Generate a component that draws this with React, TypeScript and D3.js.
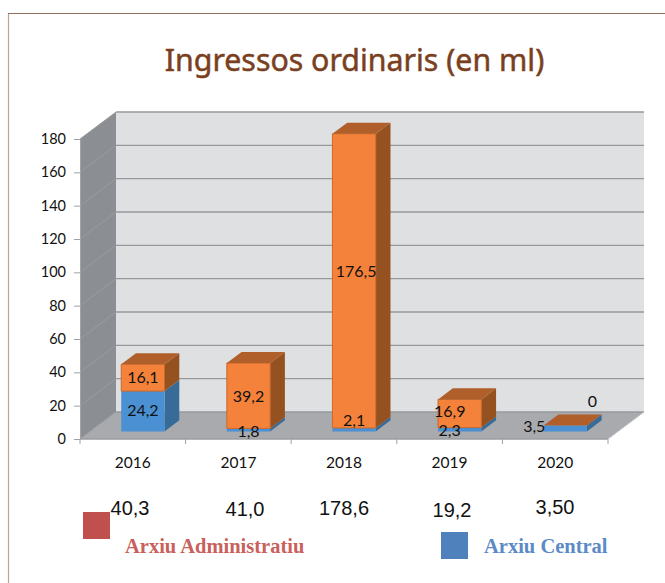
import React, { useRef, useEffect } from "react";
import * as d3 from "d3";

const years = ["2016", "2017", "2018", "2019", "2020"];
const central = [24.2, 1.8, 2.1, 2.3, 3.5];
const admin = [16.1, 39.2, 176.5, 16.9, 0];
const centralLabels = ["24,2", "1,8", "2,1", "2,3", "3,5"];
const adminLabels = ["16,1", "39,2", "176,5", "16,9", "0"];
const totals = ["40,3", "41,0", "178,6", "19,2", "3,50"];
const yTicks = d3.range(0, 181, 20);

// label offsets from the middle of the front face, the source placed these by hand
const centralNudge = [[0, -1], [0, 1], [0, -9], [-10, 1], [-31, -2]];
const adminNudge = [[0, 0], [0, 1], [2, -9], [-10, -2], [27, -24]];
const totalPos = [[130, 515], [245, 516], [344, 515], [452, 517], [555, 514]];

const W = 665;
const H = 583;
const DX = 36; // depth of the 3d box in px
const DY = -27;

const App = () => {
  const ref = useRef<SVGSVGElement>(null);

  useEffect(() => {
    const svg = d3.select(ref.current);
    svg.selectAll("*").remove();

    const x = d3.scaleBand().domain(years).range([80, 608]);
    const y = d3.scaleLinear().domain([0, 180]).range([439, 139]);
    const poly = (pts: number[][], fill: string, stroke = "none") =>
      svg
        .append("polygon")
        .attr("points", pts.map((p) => p.join(",")).join(" "))
        .attr("fill", fill)
        .attr("stroke", stroke);

    // frame
    svg.append("line").attr("x1", 8.5).attr("x2", 8.5).attr("y1", 13).attr("y2", H).attr("stroke", "#b8a596").attr("stroke-width", 1.2);
    svg.append("line").attr("x1", 8).attr("x2", W).attr("y1", 13.5).attr("y2", 13.5).attr("stroke", "#8f6f5c").attr("stroke-width", 1.2);

    svg
      .append("text")
      .attr("x", 354.5)
      .attr("y", 71)
      .attr("text-anchor", "middle")
      .attr("font-family", "'Noto Sans'")
      .attr("font-size", 30.3)
      .attr("fill", "#7a3f20")
      .attr("stroke", "#7a3f20")
      .attr("stroke-width", 0.5)
      .text("Ingressos ordinaris (en ml)");

    const [x0, x1] = x.range();
    const y0 = y(0);
    const yTop = y(180);

    // walls and floor
    poly([[x0 + DX, yTop + DY], [x1 + DX, yTop + DY], [x1 + DX, y0 + DY], [x0 + DX, y0 + DY]], "#dfe0e2");
    poly([[x0, yTop], [x0 + DX, yTop + DY], [x0 + DX, y0 + DY], [x0, y0]], "#8b8e93");
    poly([[x0, y0], [x0 + DX, y0 + DY], [x1 + DX, y0 + DY], [x1, y0]], "#a9aaae");

    // gridlines, back wall and side wall
    yTicks.forEach((t) => {
      const g = y(t);
      svg.append("line").attr("x1", x0 + DX).attr("x2", x1 + DX).attr("y1", g + DY).attr("y2", g + DY).attr("stroke", "#96989c").attr("stroke-width", 1.4);
      svg.append("line").attr("x1", x0).attr("x2", x0 + DX).attr("y1", g).attr("y2", g + DY).attr("stroke", "#9a9c9f").attr("stroke-width", 1);
    });
    svg.append("line").attr("x1", x0).attr("x2", x1).attr("y1", y0).attr("y2", y0).attr("stroke", "#9a9c9f").attr("stroke-width", 1.4);
    svg.append("line").attr("x1", x1).attr("x2", x1 + DX).attr("y1", y0).attr("y2", y0 + DY).attr("stroke", "#c4c5c8").attr("stroke-width", 1);

    // axes
    const yAxis = svg
      .append("g")
      .attr("transform", `translate(${x0},0)`)
      .call(d3.axisLeft(y).tickValues(yTicks).tickSize(6).tickPadding(8));
    yAxis.select(".domain").attr("stroke", "#a0a2a5");
    yAxis.selectAll("line").attr("stroke", "#a0a2a5");
    yAxis.selectAll("text").attr("font-family", "Lato").attr("font-size", 14.5).attr("fill", "#111");

    const xAxis = svg
      .append("g")
      .attr("transform", `translate(0,${y0})`)
      .call(d3.axisBottom(x).tickSize(0).tickPadding(18));
    xAxis.select(".domain").remove();
    xAxis.selectAll("text").attr("font-family", "Lato").attr("font-size", 15.5).attr("fill", "#111");

    [...years.map((d) => x(d)!), x1].forEach((v) => {
      svg.append("line").attr("x1", v).attr("x2", v).attr("y1", y0).attr("y2", y0 + 5).attr("stroke", "#a0a2a5");
    });

    // bars
    const shift = 0.28;
    const depth = 0.41;
    const bw = x.bandwidth() * 0.41;
    const baseY = shift * DY;
    const bdx = depth * DX;
    const bdy = depth * DY;

    years.forEach((yr, i) => {
      const cx = x(yr)! + x.bandwidth() / 2 + shift * DX;
      const left = cx - bw / 2;
      const right = cx + bw / 2;
      const yBase = y(0) + baseY;
      const yMid = y(central[i]) + baseY;
      const yEnd = y(central[i] + admin[i]) + baseY;

      // side faces
      poly([[right, yBase], [right + bdx, yBase + bdy], [right + bdx, yMid + bdy], [right, yMid]], "#376c99");
      poly([[right, yMid], [right + bdx, yMid + bdy], [right + bdx, yEnd + bdy], [right, yEnd]], "#95511f");
      // front faces
      poly([[left, yBase], [right, yBase], [right, yMid], [left, yMid]], "#4a90d2");
      if (admin[i] > 0) {
        poly([[left, yMid], [right, yMid], [right, yEnd], [left, yEnd]], "#f5823a", "#c96a2c");
      }
      // top
      poly([[left, yEnd], [right, yEnd], [right + bdx, yEnd + bdy], [left + bdx, yEnd + bdy]], "#b05e2a");

      const label = (txt: string, mx: number, my: number) =>
        svg
          .append("text")
          .attr("x", mx)
          .attr("y", my)
          .attr("dy", "0.35em")
          .attr("text-anchor", "middle")
          .attr("font-family", "Lato")
          .attr("font-size", 16)
          .attr("fill", "#111")
          .text(txt);

      label(centralLabels[i], cx + centralNudge[i][0], (yBase + yMid) / 2 + centralNudge[i][1]);
      label(adminLabels[i], cx + adminNudge[i][0], (yMid + yEnd) / 2 + adminNudge[i][1]);
    });

    // totals under the chart
    totals.forEach((t, i) => {
      svg
        .append("text")
        .attr("x", totalPos[i][0])
        .attr("y", totalPos[i][1])
        .attr("text-anchor", "middle")
        .attr("font-family", "'Liberation Sans'")
        .attr("font-size", 20)
        .attr("fill", "#111")
        .text(t);
    });

    // legend
    svg.append("rect").attr("x", 83).attr("y", 512).attr("width", 27).attr("height", 27).attr("fill", "#c0504d");
    svg.append("rect").attr("x", 441).attr("y", 532).attr("width", 27).attr("height", 27).attr("fill", "#4f81bd");
    const legendText = (txt: string, lx: number, fill: string) =>
      svg
        .append("text")
        .attr("x", lx)
        .attr("y", 553)
        .attr("font-family", "'Liberation Serif'")
        .attr("font-weight", "bold")
        .attr("font-size", 20.5)
        .attr("fill", fill)
        .text(txt);
    legendText("Arxiu Administratiu", 125, "#c9605c");
    legendText("Arxiu Central", 484, "#5b8ac6");
  }, []);

  return (
    <svg
      ref={ref}
      width={W}
      height={H}
      style={{ position: "absolute", left: 0, top: 0, background: "#fff" }}
    />
  );
};

export default App;
